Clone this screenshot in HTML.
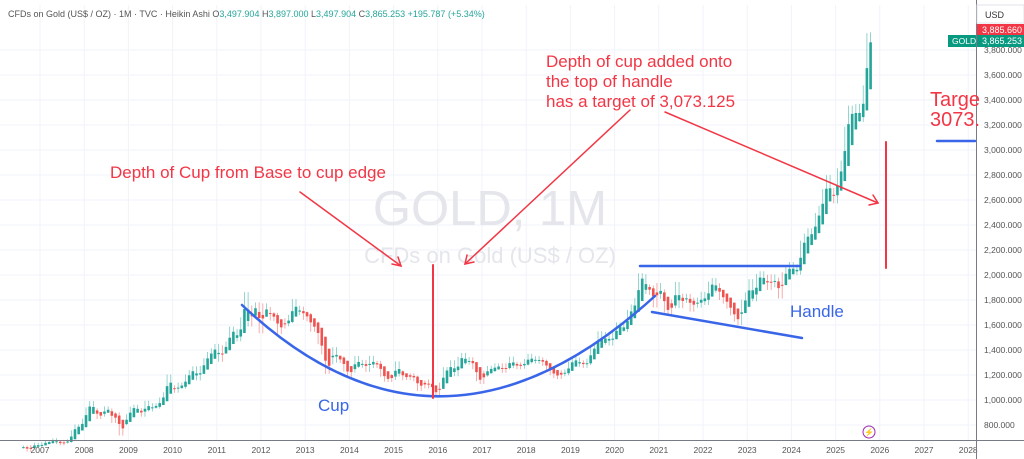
<!DOCTYPE html>
<html><head><meta charset="utf-8"><style>
body{margin:0;background:#fff;font-family:"Liberation Sans",sans-serif}
svg{display:block}
</style></head><body>
<svg id="c" width="1024" height="459" viewBox="0 0 1024 459">
<rect width="1024" height="459" fill="#fff"/>
<g id="grid"></g>
<text x="490" y="225" font-size="49" fill="#e4e6eb" text-anchor="middle">GOLD, 1M</text>
<text x="490" y="263" font-size="22" fill="#e4e6eb" text-anchor="middle">CFDs on Gold (US$ / OZ)</text>
<g id="candles"></g>
<g id="yaxis"></g>
<g id="xaxis"></g>
<text x="8" y="17" font-size="9" fill="#555">CFDs on Gold (US$ / OZ) · 1M · TVC · Heikin Ashi <tspan>O</tspan><tspan fill="#26a69a">3,497.904</tspan> <tspan>H</tspan><tspan fill="#26a69a">3,897.000</tspan> <tspan>L</tspan><tspan fill="#26a69a">3,497.904</tspan> <tspan>C</tspan><tspan fill="#26a69a">3,865.253 +195.787 (+5.34%)</tspan></text>
<g fill="none" stroke-linecap="round">
<path d="M242 305 Q440 492 655 296" stroke="#3966e8" stroke-width="2.5"/>
<line x1="640" y1="266" x2="800" y2="266" stroke="#3966e8" stroke-width="2.5"/>
<line x1="652" y1="312" x2="802" y2="338" stroke="#3966e8" stroke-width="2.5"/>
<line x1="937" y1="141" x2="975" y2="141" stroke="#3966e8" stroke-width="2.5"/>
<line x1="433" y1="265" x2="433" y2="398" stroke="#f23645" stroke-width="2"/>
<line x1="886" y1="142" x2="886" y2="268" stroke="#f23645" stroke-width="2"/>
<g stroke="#f23645" stroke-width="1.5">
<line x1="300" y1="192" x2="401" y2="266"/><path d="M392 264 L401 266 L398 257"/>
<line x1="630" y1="110" x2="465" y2="264"/><path d="M467 255 L465 264 L474 262"/>
<line x1="665" y1="112" x2="878" y2="203"/><path d="M869 205 L878 203 L873 195"/>
</g>
</g>
<g font-size="17" fill="#f23645">
<text x="110" y="178">Depth of Cup from Base to cup edge</text>
<text x="546" y="67">Depth of cup added onto</text>
<text x="546" y="87">the top of handle</text>
<text x="546" y="107">has a target of 3,073.125</text>
<text x="930" y="106" font-size="20">Targe</text>
<text x="930" y="126" font-size="20">3073.</text>
</g>
<text x="318" y="411" font-size="17" fill="#3966e8">Cup</text>
<text x="790" y="317" font-size="17" fill="#3966e8">Handle</text>
<rect x="977" y="5" width="47" height="18" fill="#fff" stroke="#e0e3eb"/>
<text x="985" y="18" font-size="9" fill="#333">USD</text>
<rect x="977" y="24" width="47" height="11" fill="#f23645"/>
<text x="982" y="33" font-size="9" fill="#fff">3,885.660</text>
<rect x="948" y="35" width="28" height="12" fill="#089981"/>
<text x="952" y="44" font-size="8.5" fill="#fff">GOLD</text>
<rect x="977" y="35" width="47" height="12" fill="#089981"/>
<text x="982" y="44" font-size="9" fill="#fff">3,865.253</text>
<circle cx="869" cy="432" r="6" fill="#fff" stroke="#9c27b0" stroke-width="1"/>
<text x="869" y="435" font-size="8" fill="#9c27b0" text-anchor="middle">⚡</text>
</svg>
<script>
const startYear = 2006, startMonth = 7; // Aug 2006
const closes = [623,599,627,646,632,
650,665,662,680,660,650,665,672,743,789,783,834,
923,972,916,865,885,930,914,833,884,730,815,869,
928,943,916,884,975,927,955,950,1000,1040,1180,1096,
1080,1118,1113,1180,1215,1245,1180,1247,1308,1357,1386,1421,
1332,1410,1439,1556,1536,1500,1628,1826,1620,1722,1746,1565,
1738,1711,1669,1664,1558,1604,1622,1648,1772,1719,1713,1675,
1663,1578,1595,1476,1393,1234,1312,1395,1326,1323,1253,1202,
1244,1326,1283,1295,1250,1327,1282,1287,1210,1171,1167,1184,
1283,1212,1183,1183,1190,1172,1095,1134,1115,1142,1065,1060,
1117,1238,1234,1292,1214,1320,1350,1309,1316,1272,1173,1151,
1211,1248,1249,1268,1268,1242,1269,1321,1280,1271,1275,1302,
1343,1318,1325,1315,1298,1253,1224,1200,1192,1214,1222,1282,
1321,1313,1292,1283,1305,1409,1413,1520,1472,1513,1464,1517,
1589,1585,1577,1687,1730,1781,1975,1967,1886,1879,1776,1898,
1847,1734,1707,1769,1906,1770,1814,1813,1742,1783,1774,1829,
1796,1909,1937,1896,1837,1807,1765,1711,1660,1633,1768,1824,
1928,1826,1969,1990,1963,1919,1965,1940,1849,1983,2036,2063,
2039,2044,2230,2286,2327,2326,2447,2503,2635,2744,2643,2625,
2798,2858,3123,3289,3289,3303,3290,3448,3858,3865];
const priceTicks = [800,1000,1200,1400,1600,1800,2000,2200,2400,2600,2800,3000,3200,3400,3600,3800];
const yearTicks = [2007,2008,2009,2010,2011,2012,2013,2014,2015,2016,2017,2018,2019,2020,2021,2022,2023,2024,2025,2026,2027,2028];

const NS="http://www.w3.org/2000/svg";
const yOf = p => 150 + (3000 - p) / 8;
const xOf = t => 40 + (t - 2007) * 44.2;
function mk(tag, attrs, parent){const e=document.createElementNS(NS,tag);for(const k in attrs)e.setAttribute(k,attrs[k]);parent.appendChild(e);return e;}
const grid=document.getElementById('grid'), ya=document.getElementById('yaxis'), xa=document.getElementById('xaxis'), cg=document.getElementById('candles');
priceTicks.forEach(p=>{
  const l=mk('line',{x1:0,x2:976,y1:yOf(p),y2:yOf(p),stroke:'#f0f3fa'},grid);
  
  
  const t=mk('text',{x:984,y:yOf(p)+3,'font-size':8.5,fill:'#555'},ya);
  t.textContent=p.toLocaleString('en-US')+'.000';
  
  
});
yearTicks.forEach(y=>{
  const l=mk('line',{x1:xOf(y),x2:xOf(y),y1:5,y2:440,stroke:'#f0f3fa'},grid);
  
  
  const t=mk('text',{x:xOf(y),y:453,'font-size':8.5,fill:'#555','text-anchor':'middle'},xa);
  t.textContent=y;
  
  
});
mk('line',{x1:976.5,x2:976.5,y1:0,y2:459,stroke:'#787b86'},xa);
mk('line',{x1:0,x2:1024,y1:440.5,y2:440.5,stroke:'#787b86'},xa);
let haO=closes[0], haC=closes[0];
closes.forEach((c,i)=>{
  const o=i?closes[i-1]:c;
  const hi=Math.max(o,c)*1.02, lo=Math.min(o,c)*0.98;
  const nc=(o+hi+lo+c)/4, no=(haO+haC)/2;
  const h=Math.max(hi,no,nc), l=Math.min(lo,no,nc);
  haO=no; haC=nc;
  const m=startMonth+i, t=startYear+m/12+1/24;
  const x=xOf(t), col=nc>=no?'#26a69a':'#ef5350';
  const w=mk('line',{x1:x,x2:x,y1:yOf(h),y2:yOf(l),stroke:col,'stroke-width':0.8,opacity:0.6},cg);
  
  
  const top=yOf(Math.max(no,nc)), bh=Math.max(1,Math.abs(yOf(no)-yOf(nc)));
  const r=mk('rect',{x:x-1.3,y:top,width:2.6,height:bh,fill:col},cg);
  
  
});
</script>
</body></html>
